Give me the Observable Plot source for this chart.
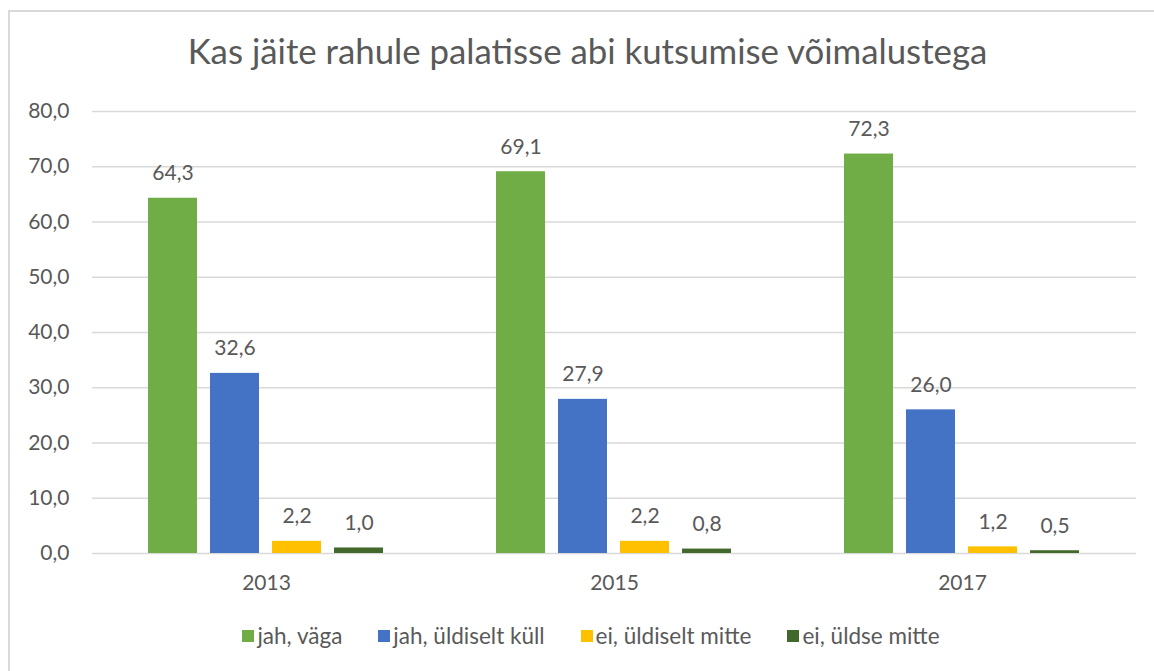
<!DOCTYPE html>
<html>
<head>
<meta charset="utf-8">
<script src="https://cdn.jsdelivr.net/npm/d3@7"></script>
<script src="https://cdn.jsdelivr.net/npm/@observablehq/plot@0.6"></script>
<style>
  html, body { margin: 0; padding: 0; background: #fff; }
  #wrap { position: relative; width: 1154px; height: 671px; overflow: hidden; font-family: Lato, "Open Sans", sans-serif; color: #595959; }
  #frame { position: absolute; left: 8px; top: 10px; width: 1200px; height: 700px; border: 2px solid #d9d9d9; box-sizing: border-box; }
  #title { position: absolute; left: 9px; width: 1157px; top: 29px; text-align: center; font-size: 34.8px; line-height: 44px; white-space: nowrap; }
  #chart { position: absolute; left: 0; top: 90px; }
  #legend { position: absolute; left: 9px; width: 1164px; top: 622px; display: flex; justify-content: center; font-size: 22.5px; line-height: 28px; }
  #legend .item { display: flex; align-items: center; margin: 0 18px; }
  #legend .sw { width: 12px; height: 12px; margin-right: 3px; }
</style>
</head>
<body>
<div id="wrap">
  <div id="frame"></div>
  <div id="title">Kas jäite rahule palatisse abi kutsumise võimalustega</div>
  <div id="chart"></div>
  <div id="legend"></div>
</div>
<script>
const years = ["2013", "2015", "2017"];
const series = ["jah, väga", "jah, üldiselt küll", "ei, üldiselt mitte", "ei, üldse mitte"];
const colors = ["#70ad47", "#4472c4", "#ffc000", "#43682b"];
const values2013 = [64.3, 32.6, 2.2, 1.0];
const values2015 = [69.1, 27.9, 2.2, 0.8];
const values2017 = [72.3, 26.0, 1.2, 0.5];
const yTicks = [0, 10, 20, 30, 40, 50, 60, 70, 80];

const valuesByYear = [values2013, values2015, values2017];
const data = [];
years.forEach((yr, i) => series.forEach((s, j) => data.push({year: yr, series: s, value: valuesByYear[i][j]})));

const fmt = d => d.toFixed(1).replace(".", ",");

const plot = Plot.plot({
  width: 1154,
  height: 508,
  marginLeft: 91,
  marginRight: 17,
  marginTop: 21,
  marginBottom: 45,
  style: {fontFamily: "Lato, 'Open Sans', sans-serif", fontSize: "21px", color: "#595959", background: "transparent"},
  fx: {domain: years, padding: 0, label: null, axis: "bottom", tickSize: 0, tickPadding: 22},
  x: {domain: series, paddingInner: 0.206, paddingOuter: 0.87, axis: null},
  y: {domain: [0, 80], ticks: yTicks, tickFormat: fmt, tickSize: 0, tickPadding: 23, label: null},
  color: {domain: series, range: colors},
  marks: [
    Plot.ruleY(yTicks, {stroke: "#d9d9d9", strokeWidth: 1.3}),
    Plot.barY(data, {fx: "year", x: "series", y: "value", fill: "series"}),
    Plot.text(data, {fx: "year", x: "series", y: "value", text: d => fmt(d.value), lineAnchor: "bottom", dy: -18, fill: "#595959", fontSize: 21})
  ]
});
document.getElementById("chart").appendChild(plot);

const legend = document.getElementById("legend");
series.forEach((s, i) => {
  const item = document.createElement("div");
  item.className = "item";
  const sw = document.createElement("div");
  sw.className = "sw";
  sw.style.background = plot.scale("color").apply(s);
  const label = document.createElement("span");
  label.textContent = s;
  item.appendChild(sw);
  item.appendChild(label);
  legend.appendChild(item);
});
</script>
</body>
</html>
